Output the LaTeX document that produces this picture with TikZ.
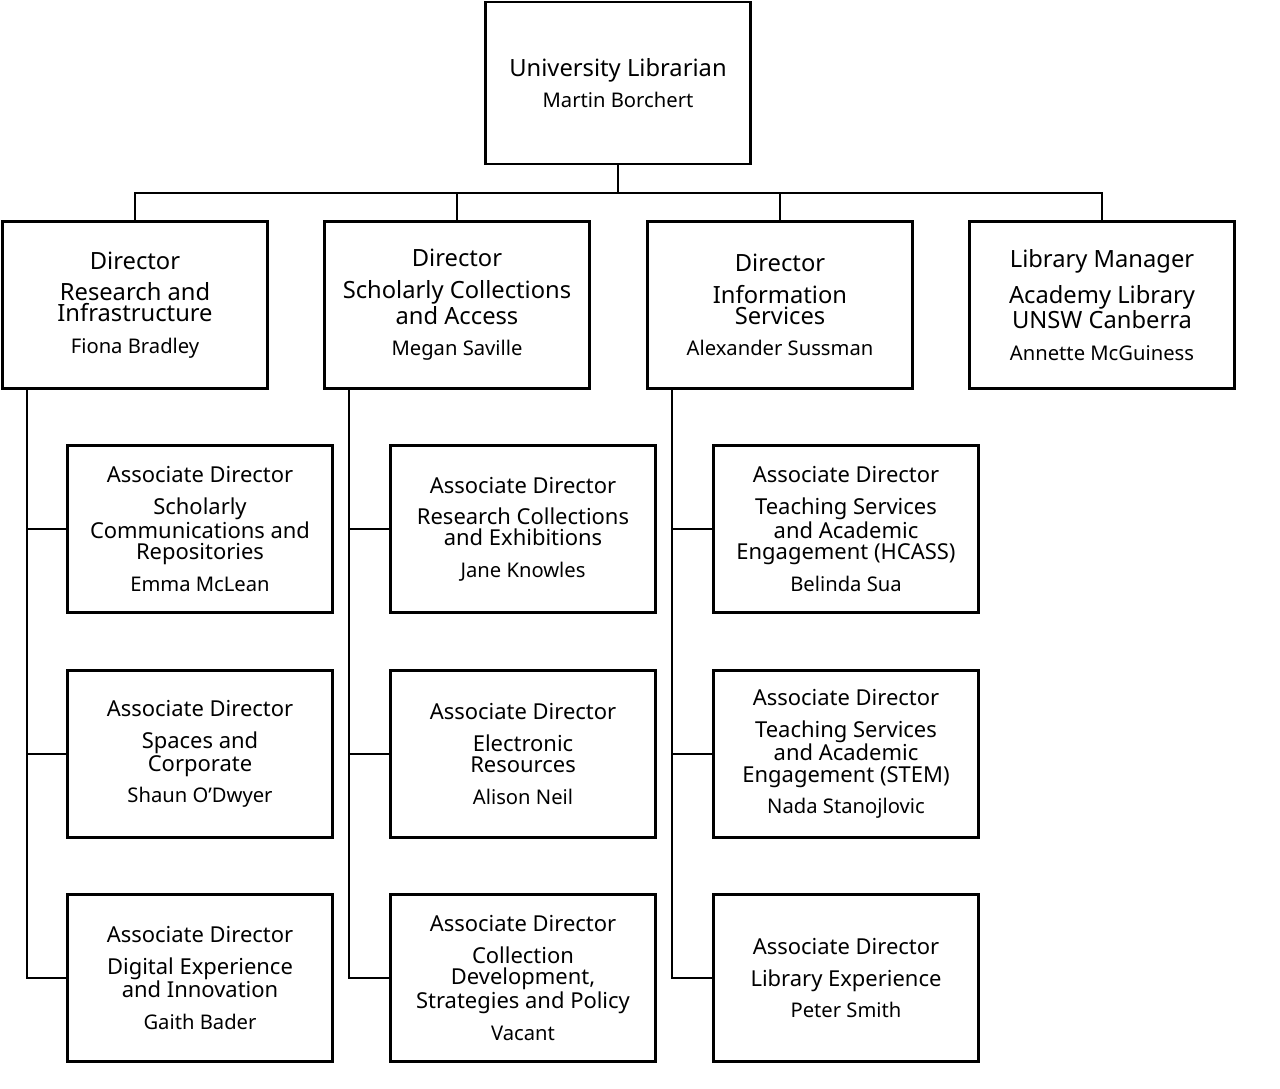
\documentclass[tikz,border=0pt]{standalone}
\usepackage{fontspec}
\setmainfont{Noto Sans}
\usetikzlibrary{positioning,calc}
\tikzset{
    box/.style={draw,line width=1.4pt,align=center,minimum width=151pt,minimum height=95pt,inner sep=2pt},
    link/.style={line width=1.4pt}
}
\newcommand{\ttl}{\fontsize{13.5}{15}\selectfont}
\newcommand{\sub}{\fontsize{11.5}{13}\selectfont}
\newcommand{\asc}{\fontsize{12.5}{13.5}\selectfont}

\begin{document}
\begin{tikzpicture}[x=0.02cm,y=-0.02cm]
    \useasboundingbox (0,0) rectangle (1280,1088);

    % top
    \node [box,minimum height=92pt] (ul) at (618,83) {\ttl University Librarian\\[6pt]\sub Martin Borchert};

    % directors
    \node [box] (d1) at (135,305) {\ttl Director\\[6pt]\ttl Research and\\\ttl Infrastructure\\[6pt]\sub Fiona Bradley};
    \node [box] (d2) at (457,305) {\ttl Director\\[6pt]\ttl Scholarly Collections\\\ttl and Access\\[6pt]\sub Megan Saville};
    \node [box] (d3) at (780,305) {\ttl Director\\[6pt]\ttl Information\\\ttl Services\\[6pt]\sub Alexander Sussman};
    \node [box] (d4) at (1102,305) {\ttl Library Manager\\[6pt]\ttl Academy Library\\\ttl UNSW Canberra\\[6pt]\sub Annette McGuiness};

    % associate directors
    \node [box] (a11) at (200,529) {\asc Associate Director\\[6pt]\asc Scholarly\\\asc Communications and\\\asc Repositories\\[6pt]\sub Emma McLean};
    \node [box] (a12) at (200,754) {\asc Associate Director\\[6pt]\asc Spaces and\\\asc Corporate\\[6pt]\sub Shaun O'Dwyer};
    \node [box] (a13) at (200,978) {\asc Associate Director\\[6pt]\asc Digital Experience\\\asc and Innovation\\[6pt]\sub Gaith Bader};
    \node [box] (a21) at (523,529) {\asc Associate Director\\[6pt]\asc Research Collections\\\asc and Exhibitions\\[6pt]\sub Jane Knowles};
    \node [box] (a22) at (523,754) {\asc Associate Director\\[6pt]\asc Electronic\\\asc Resources\\[6pt]\sub Alison Neil};
    \node [box] (a23) at (523,978) {\asc Associate Director\\[6pt]\asc Collection\\\asc Development,\\\asc Strategies and Policy\\[6pt]\sub Vacant};
    \node [box] (a31) at (846,529) {\asc Associate Director\\[6pt]\asc Teaching Services\\\asc and Academic\\\asc Engagement (HCASS)\\[6pt]\sub Belinda Sua};
    \node [box] (a32) at (846,754) {\asc Associate Director\\[6pt]\asc Teaching Services\\\asc and Academic\\\asc Engagement (STEM)\\[6pt]\sub Nada Stanojlovic};
    \node [box] (a33) at (846,978) {\asc Associate Director\\[6pt]\asc Library Experience\\[6pt]\sub Peter Smith};

    % bus
    \coordinate (bus) at (618,193);
    \draw [link] (ul.south) -- (bus);
    \draw [link] (d1.north) |- (bus) -| (d4.north);
    \draw [link] (d2.north) -- (d2.north |- bus);
    \draw [link] (d3.north) -- (d3.north |- bus);

    % spines
    \foreach \i in {1,2,3}{
        \coordinate (s\i) at ($(d\i.south west)+(26,0)$);
        \draw [link] (s\i) |- (a\i3.west);
        \draw [link] (a\i1.west) -- (a\i1.west -| s\i);
        \draw [link] (a\i2.west) -- (a\i2.west -| s\i);
    }
\end{tikzpicture}
\end{document}
